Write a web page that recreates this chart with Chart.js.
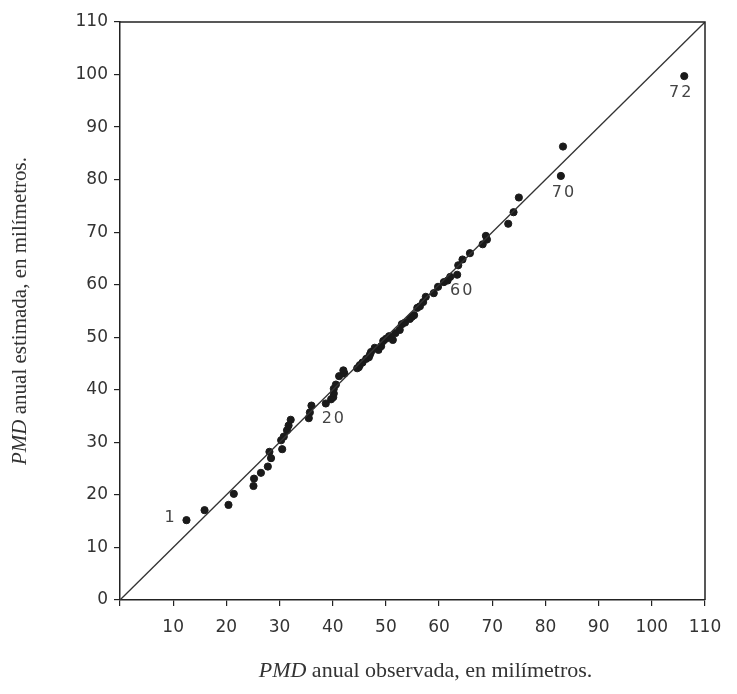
<!DOCTYPE html>
<html>
<head>
<meta charset="utf-8">
<script src="https://cdn.jsdelivr.net/npm/chart.js@4"></script>
<style>
  html, body { margin: 0; padding: 0; background: #ffffff; }
  #wrap { width: 737px; height: 694px; }
</style>
</head>
<body>
<div id="wrap"><canvas id="c" width="737" height="694"></canvas></div>
<script>
// PMD anual observada (x) y estimada (y), en milímetros — 72 estaciones
const observed = [
  12.5, 15.9, 20.4, 21.4, 25.1, 25.2, 26.5, 27.8, 28.4, 28.1,
  30.5, 30.3, 30.8, 31.4, 31.7, 32.1, 35.5, 35.7, 36.0, 38.7,
  39.7, 40.1, 40.2, 40.2, 40.6, 41.2, 42.2, 42.0, 44.6, 44.9,
  45.1, 45.6, 46.3, 46.8, 47.0, 47.2, 47.9, 48.6, 49.1, 49.5,
  50.0, 50.6, 51.3, 51.8, 52.6, 53.0, 53.6, 54.5, 54.9, 55.3,
  55.9, 56.4, 57.0, 57.5, 59.0, 59.8, 60.9, 61.6, 62.1, 63.4,
  63.6, 64.4, 65.8, 68.2, 68.8, 69.0, 73.0, 74.0, 75.0, 82.9,
  83.3, 106.1
];
const estimated = [
  15.2, 17.1, 18.1, 20.2, 21.7, 23.1, 24.2, 25.4, 27.0, 28.2,
  28.7, 30.4, 31.1, 32.3, 33.2, 34.3, 34.6, 35.7, 37.0, 37.4,
  38.2, 38.6, 39.3, 40.2, 41.0, 42.6, 43.1, 43.7, 44.1, 44.3,
  44.7, 45.2, 45.9, 46.2, 46.7, 47.2, 48.0, 47.6, 48.3, 49.3,
  49.7, 50.2, 49.5, 50.8, 51.4, 52.5, 52.8, 53.5, 53.9, 54.2,
  55.6, 55.9, 56.7, 57.7, 58.4, 59.6, 60.5, 60.8, 61.5, 61.9,
  63.7, 64.8, 66.0, 67.7, 69.3, 68.6, 71.6, 73.8, 76.6, 80.7,
  86.3, 99.7
];
// numbered stations shown on the chart
const labelledStations = [1, 20, 60, 70, 72];
const labelText = ['1', '20', '60', '70', '72'];
const labelOffsetPx = [[-17, -2], [7, 15], [4, 16], [2, 17], [-4, 17]];

const xTicks = [0, 10, 20, 30, 40, 50, 60, 70, 80, 90, 100, 110];
const yTicks = [0, 10, 20, 30, 40, 50, 60, 70, 80, 90, 100, 110];
const identityLine = [0, 110];

const xTitleItalic = 'PMD';
const xTitleRest = ' anual observada, en milímetros.';
const yTitleItalic = 'PMD';
const yTitleRest = ' anual estimada, en milímetros.';

const points = observed.map((v, i) => ({ x: v, y: estimated[i] }));

const framePlugin = {
  id: 'frame',
  afterDatasetsDraw(chart) {
    const { ctx, chartArea: a, scales } = chart;
    ctx.save();
    ctx.strokeStyle = '#222';
    ctx.lineWidth = 1.5;
    ctx.beginPath();
    ctx.moveTo(a.left, a.top);
    ctx.lineTo(a.right, a.top);
    ctx.lineTo(a.right, a.bottom);
    ctx.stroke();
    // numbered stations
    ctx.fillStyle = '#444';
    ctx.font = '16px "DejaVu Sans"';
    ctx.textBaseline = 'middle';
    labelledStations.forEach((n, k) => {
      const px = scales.x.getPixelForValue(observed[n - 1]) + labelOffsetPx[k][0];
      const py = scales.y.getPixelForValue(estimated[n - 1]) + labelOffsetPx[k][1];
      const t = labelText[k];
      const sp = 2;
      const w = t.split('').reduce((s, ch) => s + ctx.measureText(ch).width, 0) + sp * (t.length - 1);
      let cx = px - w / 2;
      ctx.textAlign = 'left';
      for (const ch of t) {
        ctx.fillText(ch, cx, py);
        cx += ctx.measureText(ch).width + sp;
      }
    });
    // axis titles (mixed italic / regular)
    const drawTitle = (it, rest, cx, cy, rot, size) => {
      ctx.save();
      ctx.translate(cx, cy);
      ctx.rotate(rot);
      ctx.fillStyle = '#333';
      ctx.textBaseline = 'middle';
      ctx.textAlign = 'left';
      const fi = 'italic ' + size + 'px "Liberation Serif"';
      const fr = size + 'px "Liberation Serif"';
      ctx.font = fi; const w1 = ctx.measureText(it).width;
      ctx.font = fr; const w2 = ctx.measureText(rest).width;
      const start = -(w1 + w2) / 2;
      ctx.font = fi; ctx.fillText(it, start, 0);
      ctx.font = fr; ctx.fillText(rest, start + w1, 0);
      ctx.restore();
    };
    drawTitle(xTitleItalic, xTitleRest, (a.left + a.right) / 2 + 13, 671, 0, 22);
    drawTitle(yTitleItalic, yTitleRest, 20, (a.top + a.bottom) / 2, -Math.PI / 2, 21);
    ctx.restore();
  }
};

new Chart(document.getElementById('c'), {
  type: 'scatter',
  data: {
    datasets: [
      {
        type: 'line',
        data: identityLine.map(v => ({ x: v, y: v })),
        borderColor: '#333',
        borderWidth: 1.3,
        pointRadius: 0,
        fill: false
      },
      {
        data: points,
        backgroundColor: '#1a1a1a',
        borderColor: '#1a1a1a',
        pointRadius: 3.6,
        pointHoverRadius: 3.6
      }
    ]
  },
  options: {
    responsive: false,
    animation: false,
    devicePixelRatio: 1,
    layout: { padding: { left: 0, top: 22, right: 32, bottom: 0 } },
    plugins: { legend: { display: false }, tooltip: { enabled: false } },
    scales: {
      x: {
        type: 'linear',
        min: 0, max: 110,
        afterBuildTicks: s => { s.ticks = xTicks.map(v => ({ value: v })); },
        afterFit: s => { s.height = 94; },
        border: { display: true, color: '#222', width: 1.5 },
        grid: { drawOnChartArea: false, drawTicks: true, tickLength: 6, color: '#222', lineWidth: 1.2 },
        ticks: {
          color: '#333',
          font: { family: '"DejaVu Sans"', size: 17 },
          padding: 11,
          maxRotation: 0,
          callback: v => (v === 0 ? '' : String(v))
        }
      },
      y: {
        type: 'linear',
        min: 0, max: 110,
        afterBuildTicks: s => { s.ticks = yTicks.map(v => ({ value: v })); },
        afterFit: s => { s.width = 120; },
        border: { display: true, color: '#222', width: 1.5 },
        grid: { drawOnChartArea: false, drawTicks: true, tickLength: 6, color: '#222', lineWidth: 1.2 },
        ticks: {
          color: '#333',
          font: { family: '"DejaVu Sans"', size: 17 },
          padding: 6,
          callback: v => String(v)
        }
      }
    }
  },
  plugins: [framePlugin]
});
</script>
</body>
</html>
